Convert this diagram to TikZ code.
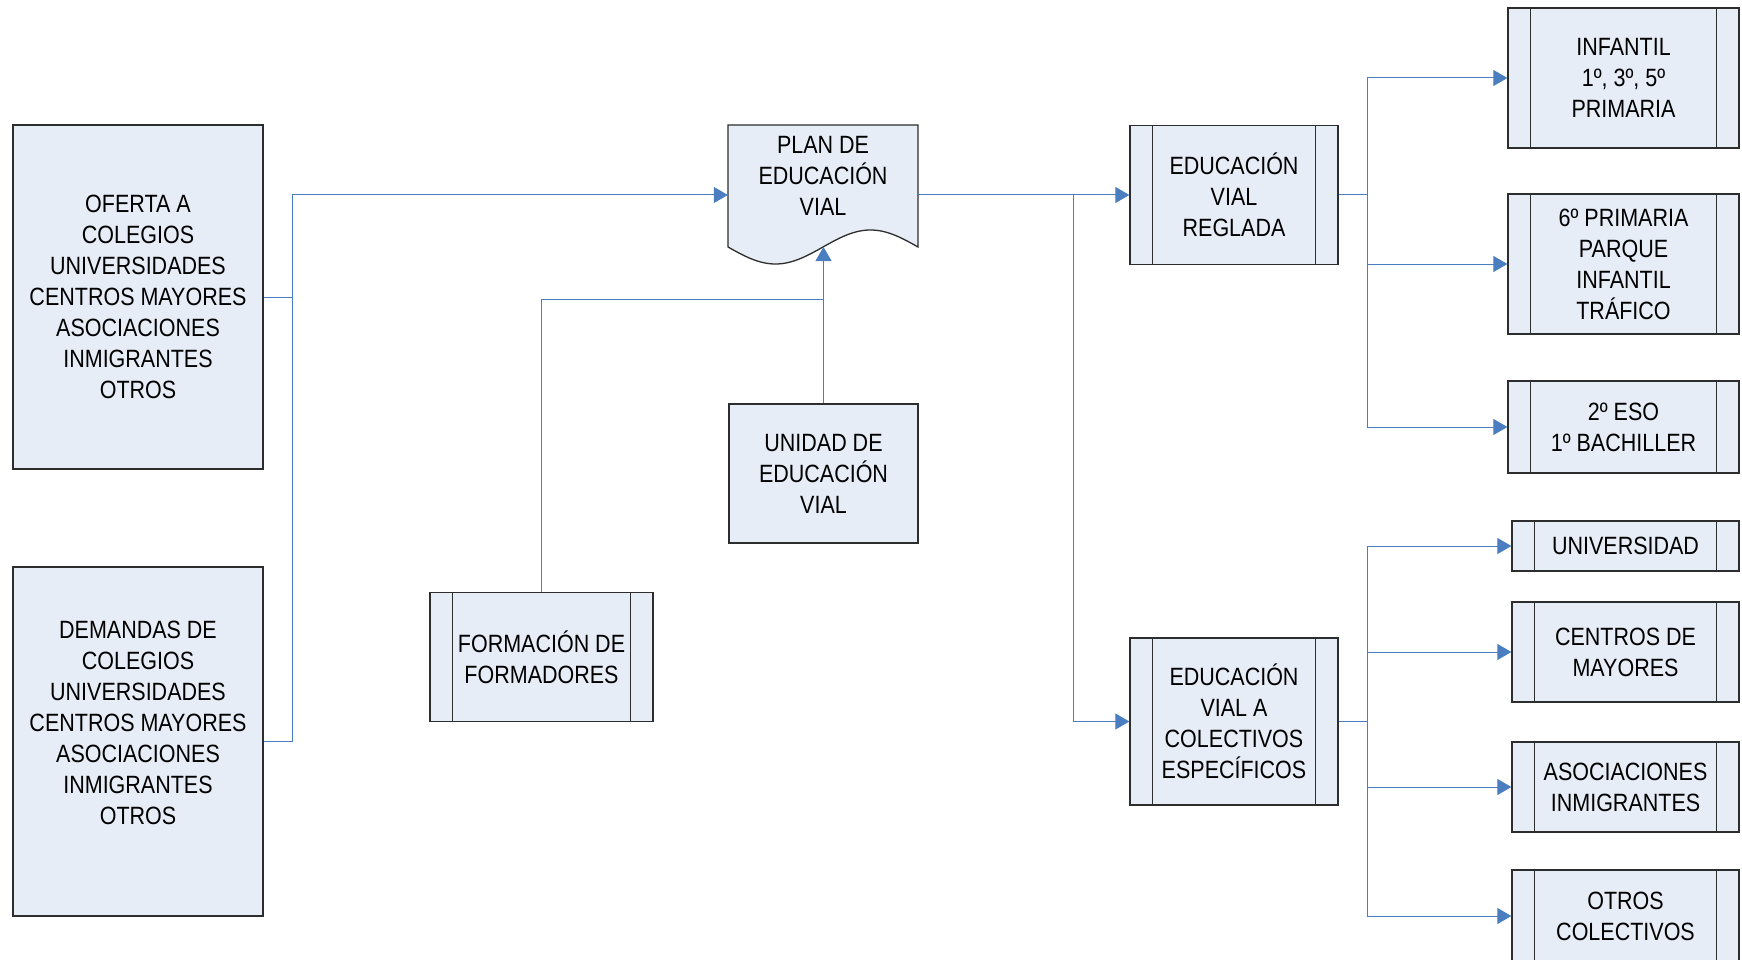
\documentclass[tikz,border=0pt]{standalone}
\usepackage{fontspec}
\setmainfont[FakeStretch=0.86]{Liberation Sans}
\usetikzlibrary{arrows.meta,calc}
\definecolor{boxfill}{RGB}{231,237,247}
\definecolor{linkblue}{RGB}{74,126,193}
\definecolor{boxedge}{RGB}{45,45,45}
\begin{document}
\begin{tikzpicture}[x=1pt,y=-1pt,
  txt/.style={font=\fontsize{25}{31}\selectfont, align=center, inner sep=0pt},
  box/.style={draw=boxedge, line width=1.3pt, fill=boxfill, inner sep=0pt, txt},
  sub/.style={box, path picture={
     \draw[boxedge, line width=1.3pt] ([xshift=22.5pt]path picture bounding box.north west) -- ([xshift=22.5pt]path picture bounding box.south west);
     \draw[boxedge, line width=1.3pt] ([xshift=-22.5pt]path picture bounding box.north east) -- ([xshift=-22.5pt]path picture bounding box.south east);}},
  link/.style={draw=linkblue, line width=1pt},
  arr/.style={link, -{Triangle[length=14pt,width=16pt]}}
]
\useasboundingbox (0,0) rectangle (1742,960);

% left boxes
\node[box, minimum width=250pt, minimum height=344pt] (ofe) at (138,297)
  {OFERTA A\\COLEGIOS\\UNIVERSIDADES\\CENTROS MAYORES\\ASOCIACIONES\\INMIGRANTES\\OTROS};
\node[box, minimum width=250pt, minimum height=349pt,
  label={[txt, yshift=18.5pt]center:{DEMANDAS DE\\COLEGIOS\\UNIVERSIDADES\\CENTROS MAYORES\\ASOCIACIONES\\INMIGRANTES\\OTROS}}] (dem) at (138,741.5) {};

% plan (document shape)
\draw[draw=boxedge, line width=1.3pt, fill=boxfill]
  (728,125) -- (918,125) -- (918,247) sin (870.5,230) cos (823,247) sin (775.5,264) cos (728,247) -- cycle;
\node[draw=none, minimum width=190pt, minimum height=140pt, inner sep=0pt,
  label={[txt, yshift=19pt]center:{PLAN DE\\EDUCACIÓN\\VIAL}}] (plan) at (823,195) {};

\node[box, minimum width=189pt, minimum height=139pt] (uni) at (823.5,473.5) {UNIDAD DE\\EDUCACIÓN\\VIAL};
\node[sub, minimum width=223pt, minimum height=129pt] (form) at (541.5,657) {FORMACIÓN DE\\FORMADORES};

% middle right
\node[sub, minimum width=208pt, minimum height=139pt] (evr) at (1234,195) {EDUCACIÓN\\VIAL\\REGLADA};
\node[sub, minimum width=208pt, minimum height=167pt] (evce) at (1234,721.5) {EDUCACIÓN\\VIAL A\\COLECTIVOS\\ESPECÍFICOS};

% far right, upper
\node[sub, minimum width=231pt, minimum height=140pt] (inf) at (1623.5,78) {INFANTIL\\1º, 3º, 5º\\PRIMARIA};
\node[sub, minimum width=231pt, minimum height=140pt] (sex) at (1623.5,264) {6º PRIMARIA\\PARQUE\\INFANTIL\\TRÁFICO};
\node[sub, minimum width=231pt, minimum height=92pt] (eso) at (1623.5,427) {2º ESO\\1º BACHILLER};

% far right, lower
\node[sub, minimum width=227pt, minimum height=50pt] (univ) at (1625.5,546) {UNIVERSIDAD};
\node[sub, minimum width=227pt, minimum height=100pt] (cen) at (1625.5,652) {CENTROS DE\\MAYORES};
\node[sub, minimum width=227pt, minimum height=90pt] (aso) at (1625.5,787) {ASOCIACIONES\\INMIGRANTES};
\node[sub, minimum width=227pt, minimum height=92pt] (otr) at (1625.5,916) {OTROS\\COLECTIVOS};

% connectors
\coordinate (j1) at (292,195);
\draw[link] (ofe.east) -| (j1);
\draw[link] (dem.east) -| (j1);
\draw[arr] (j1) -- (plan.west);

\coordinate (ptip) at (823.5,247);
\coordinate (j3) at (823.5,299);
\draw[arr] (uni.north) -- (ptip);
\draw[link] (form.north) |- (j3);

\coordinate (j2) at (1073,195);
\draw[arr] (plan.east) -- (evr.west);
\draw[arr] (j2) |- (evce.west);

\coordinate (j4) at (1367,195);
\draw[link] (evr.east) -- (j4);
\draw[arr] (j4) |- (inf.west);
\draw[arr] (j4) |- (sex.west);
\draw[arr] (j4) |- (eso.west);

\coordinate (j5) at (1367,721.5);
\draw[link] (evce.east) -- (j5);
\draw[arr] (j5) |- (univ.west);
\draw[arr] (j5) |- (cen.west);
\draw[arr] (j5) |- (aso.west);
\draw[arr] (j5) |- (otr.west);
\end{tikzpicture}
\end{document}
